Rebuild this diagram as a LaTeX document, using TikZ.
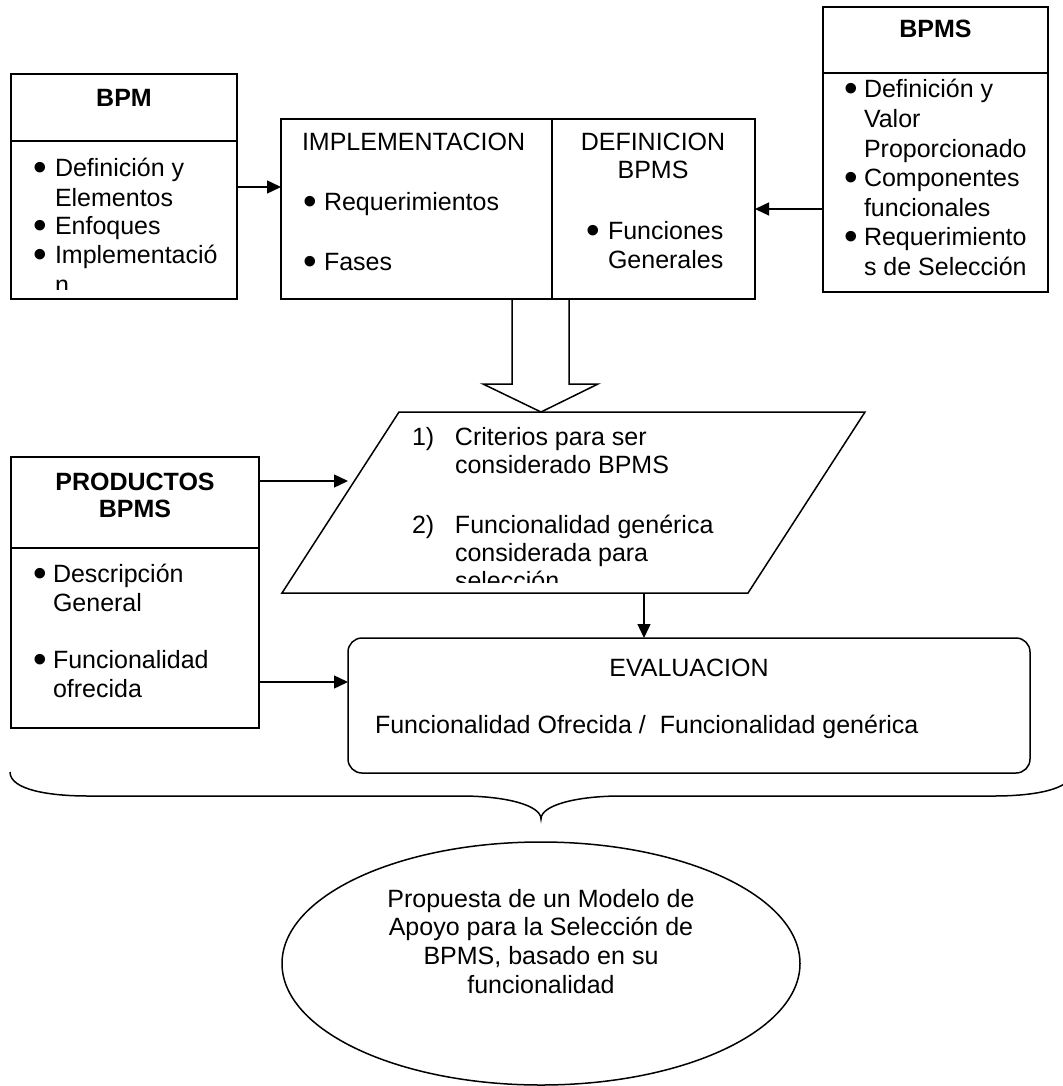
\documentclass[tikz,border=0pt]{standalone}
\usepackage{fontspec}
\setmainfont{Liberation Sans}
\usetikzlibrary{arrows.meta,shapes.geometric}

% enlarged bullet and a fixed-width bullet cell
\newcommand\bul{\raisebox{-4pt}{\scalebox{1.55}{\textbullet}}}
\newcommand\bi[1][22pt]{\makebox[#1][l]{\bul}}

\tikzset{
  box/.style={draw, line width=1.5pt, rectangle, inner sep=0pt, outer sep=0pt},
  txt/.style={inner sep=0pt, outer sep=0pt, font=\fontsize{25}{29}\selectfont},
  ttl/.style={txt, font=\fontsize{25}{27}\selectfont\bfseries},
  arr/.style={line width=1.4pt, -{Triangle[length=14pt,width=13pt]}},
  thin/.style={line width=1.5pt}
}

\begin{document}
\begin{tikzpicture}[x=1pt,y=-1pt]
\useasboundingbox (0,0) rectangle (1062,1086);

% ---- BPM ----
\node[box, minimum width=226pt, minimum height=67pt]  (bpmHead) at (124,107.5) {};
\node[box, minimum width=226pt, minimum height=158pt] (bpmBody) at (124,220) {};
\node[ttl, anchor=base] (bpmTitle) at (124,107) {BPM};
\begin{scope}
  \clip (11,141) rectangle (237,289);
  \node[txt, anchor=base west] (bpmList) at (33,177) {%
    \begin{tabular}[t]{@{}l@{}l@{}}
      \bi & Definición y\\
          & Elementos\\
      \bi & Enfoques\\
      \bi & Implementació\\
          & n
    \end{tabular}};
\end{scope}

% ---- IMPLEMENTACION / DEFINICION BPMS ----
\node[box, minimum width=271pt, minimum height=180pt] (impl) at (416.5,209) {};
\node[box, minimum width=203pt, minimum height=180pt] (def)  at (653.5,209) {};
\node[txt, anchor=base west] (implTitle) at (302,151) {IMPLEMENTACION};
\node[txt, anchor=base west] (implList) at (303,211) {%
  \begin{tabular}[t]{@{}l@{}l@{}}
    \bi[21pt] & Requerimientos\\[30pt]
    \bi[21pt] & Fases
  \end{tabular}};
\node[txt, font=\fontsize{25}{28}\selectfont, anchor=base] (defTitle) at (653,151) {%
  \begin{tabular}[t]{@{}c@{}}DEFINICION\\ BPMS\end{tabular}};
\node[txt, anchor=base west] (defList) at (586,239) {%
  \begin{tabular}[t]{@{}l@{}l@{}}
    \bi & Funciones\\
        & Generales
  \end{tabular}};

% ---- BPMS ----
\node[box, minimum width=225pt, minimum height=66pt]  (bpmsHead) at (935.5,40) {};
\node[box, minimum width=225pt, minimum height=219pt] (bpmsBody) at (935.5,182.5) {};
\node[ttl, anchor=base] (bpmsTitle) at (935.5,38) {BPMS};
\node[txt, font=\fontsize{25}{29.6}\selectfont, anchor=base west] (bpmsList) at (844,98) {%
  \begin{tabular}[t]{@{}l@{}l@{}}
    \bi[20pt] & Definición y\\
              & Valor\\
              & Proporcionado\\
    \bi[20pt] & Componentes\\
              & funcionales\\
    \bi[20pt] & Requerimiento\\
              & s de Selección
  \end{tabular}};

% ---- hollow arrow into the criteria block (open at the top) ----
\coordinate (sL)  at (512,299);
\coordinate (sR)  at (569,299);
\coordinate (tip) at (541,412);
\draw[thin] (sL) -- (512,384) -- (483,384) -- (tip)
  -- (598,384) -- (569,384) -- (sR);

% ---- criteria parallelogram ----
\coordinate (pBL) at (282,593);
\coordinate (pTL) at (399,412);
\coordinate (pTR) at (865,412);
\coordinate (pBR) at (748,593);
\draw[thin] (pBL) -- (pTL) -- (pTR) -- (pBR) -- cycle;
\begin{scope}
  \clip (282,412) rectangle (865,582);
  \node[txt, font=\fontsize{25}{28}\selectfont, anchor=base west] (critList) at (412,445) {%
    \begin{tabular}[t]{@{}l@{}l@{}}
      \makebox[43pt][l]{1)} & Criterios para ser\\
                            & considerado BPMS\\[32pt]
      \makebox[43pt][l]{2)} & Funcionalidad genérica\\
                            & considerada para\\
                            & selección
    \end{tabular}};
\end{scope}

% ---- PRODUCTOS BPMS ----
\node[box, minimum width=248pt, minimum height=91pt]  (prodHead) at (135,502.5) {};
\node[box, minimum width=248pt, minimum height=180pt] (prodBody) at (135,638) {};
\node[ttl, anchor=base] (prodTitle) at (135,490) {%
  \begin{tabular}[t]{@{}c@{}}PRODUCTOS\\ BPMS\end{tabular}};
\node[txt, anchor=base west] (prodList) at (33,582) {%
  \begin{tabular}[t]{@{}l@{}l@{}}
    \bi[20pt] & Descripción\\
              & General\\[28pt]
    \bi[20pt] & Funcionalidad\\
              & ofrecida
  \end{tabular}};

% ---- EVALUACION ----
\node[box, rounded corners=14pt, minimum width=682pt, minimum height=135pt] (eval) at (689,705.5) {};
\node[txt, anchor=base] (evalTitle) at (689,676) {EVALUACION};
\node[txt, anchor=base west] (evalText) at (375,733) {Funcionalidad Ofrecida /\ \ Funcionalidad genérica};

% ---- connectors ----
\coordinate (yA) at (0,187);
\coordinate (yB) at (0,682);
\coordinate (pIn)  at (348,481);
\coordinate (pOut) at (644,593);
\draw[arr] (bpmBody.east |- yA) -- (impl.west |- yA);
\draw[arr] (bpmsBody.west |- def.east) -- (def.east);
\draw[arr] (prodHead.east |- pIn) -- (pIn);
\draw[arr] (prodBody.east |- yB) -- (eval.west |- yB);
\draw[arr] (pOut) -- (eval.north -| pOut);

% ---- brace gathering everything above ----
\draw[thin] (10,772) .. controls (10,790) and (50,796) .. (88,796)
  -- (461,796) .. controls (505,796) and (541,805) .. (541,819)
  .. controls (541,805) and (577,796) .. (621,796)
  -- (994,796) .. controls (1032,796) and (1072,790) .. (1072,772);

% ---- resulting proposal ----
\node[draw, line width=1.5pt, ellipse, inner sep=0pt, minimum width=518pt, minimum height=243pt] (prop) at (541,963.5) {};
\node[txt, font=\fontsize{25}{28.7}\selectfont, anchor=base] (propText) at (541,907) {%
  \begin{tabular}[t]{@{}c@{}}
    Propuesta de un Modelo de\\
    Apoyo para la Selección de\\
    BPMS, basado en su\\
    funcionalidad
  \end{tabular}};

\end{tikzpicture}
\end{document}
